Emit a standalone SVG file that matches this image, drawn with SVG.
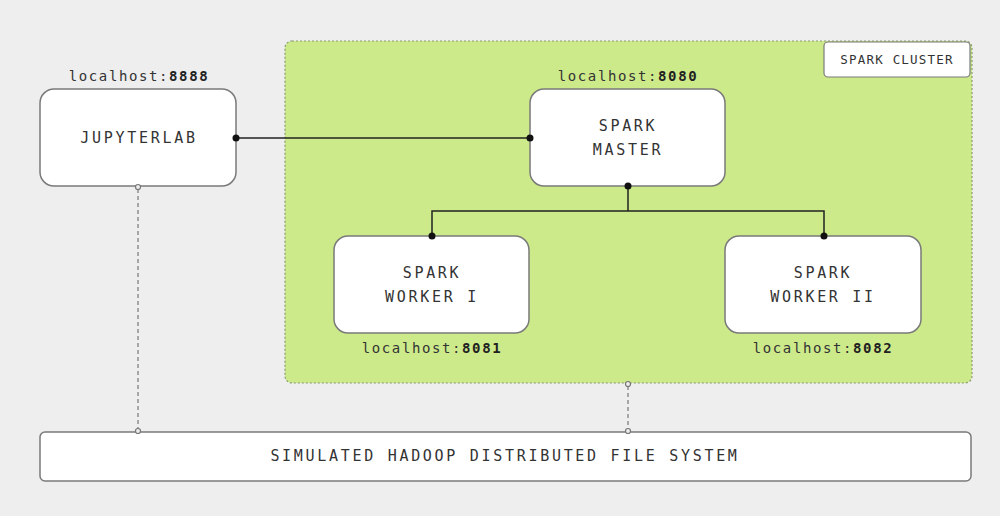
<svg xmlns="http://www.w3.org/2000/svg" width="1000" height="516" viewBox="0 0 1000 516">
<defs>
<style>
.node{fill:#fff;stroke:#7a7a7a;stroke-width:1.5}
.t{font-family:"DejaVu Sans Mono","Liberation Mono",monospace;font-size:15px;fill:#333;text-anchor:middle;letter-spacing:2.7px}
.lbl{font-family:"DejaVu Sans Mono","Liberation Mono",monospace;font-size:14px;fill:#333;text-anchor:middle;letter-spacing:1.6px}
.lbl tspan.b{font-weight:bold;fill:#222}
.cl{font-family:"DejaVu Sans Mono","Liberation Mono",monospace;font-size:12.5px;fill:#333;text-anchor:middle;letter-spacing:1.2px}
.solid{fill:none;stroke:#222;stroke-width:1.5}
.dash{fill:none;stroke:#777;stroke-width:1.2;stroke-dasharray:4 3}
.dot{fill:#111}
.hdot{fill:#eee;stroke:#777;stroke-width:1.2}
</style>
</defs>
<rect x="0" y="0" width="1000" height="516" fill="#eeeeee"/>
<g id="spark-cluster">
<rect x="285" y="41" width="687" height="342" rx="7" fill="#cdea8b" stroke="#8a9a70" stroke-width="1.2" stroke-dasharray="2 2"/>
<rect x="824" y="42" width="146" height="35" rx="4" fill="#fff" stroke="#7a7a7a" stroke-width="1.2"/>
<text class="cl" x="897" y="64">SPARK CLUSTER</text>
</g>
<g id="jupyterlab">
<rect class="node" x="40" y="89" width="196" height="97" rx="14"/>
<text class="t" x="139" y="143">JUPYTERLAB</text>
<text class="lbl" x="139" y="81">localhost:<tspan class="b">8888</tspan></text>
</g>
<g id="spark-master">
<rect class="node" x="530" y="89" width="195" height="97" rx="14"/>
<text class="t" x="628" y="131">SPARK</text>
<text class="t" x="628" y="155">MASTER</text>
<text class="lbl" x="628" y="81">localhost:<tspan class="b">8080</tspan></text>
</g>
<g id="spark-worker-1">
<rect class="node" x="334" y="236" width="195" height="97" rx="14"/>
<text class="t" x="432" y="278">SPARK</text>
<text class="t" x="432" y="302">WORKER I</text>
<text class="lbl" x="432" y="353">localhost:<tspan class="b">8081</tspan></text>
</g>
<g id="spark-worker-2">
<rect class="node" x="725" y="236" width="196" height="97" rx="14"/>
<text class="t" x="823" y="278">SPARK</text>
<text class="t" x="823" y="302">WORKER II</text>
<text class="lbl" x="823" y="353">localhost:<tspan class="b">8082</tspan></text>
</g>
<g id="hdfs">
<rect class="node" x="40" y="432" width="931" height="49" rx="5"/>
<text class="t" x="505" y="461">SIMULATED HADOOP DISTRIBUTED FILE SYSTEM</text>
</g>
<g id="connectors">
<path class="solid" d="M236 138 H530"/>
<path class="solid" d="M628 186 V211 H432 V236 M628 211 H824 V236"/>
<path class="dash" d="M138 189 V429"/>
<path class="dash" d="M628 386 V429"/>
<circle class="dot" cx="236" cy="138" r="3.5"/>
<circle class="dot" cx="530" cy="138" r="3.5"/>
<circle class="dot" cx="628" cy="186" r="3.5"/>
<circle class="dot" cx="432" cy="236" r="3.5"/>
<circle class="dot" cx="824" cy="236" r="3.5"/>
<circle class="hdot" cx="138" cy="187" r="2.5"/>
<circle class="hdot" cx="138" cy="431" r="2.5"/>
<circle class="hdot" cx="628" cy="384" r="2.5"/>
<circle class="hdot" cx="628" cy="431" r="2.5"/>
</g>
</svg>
